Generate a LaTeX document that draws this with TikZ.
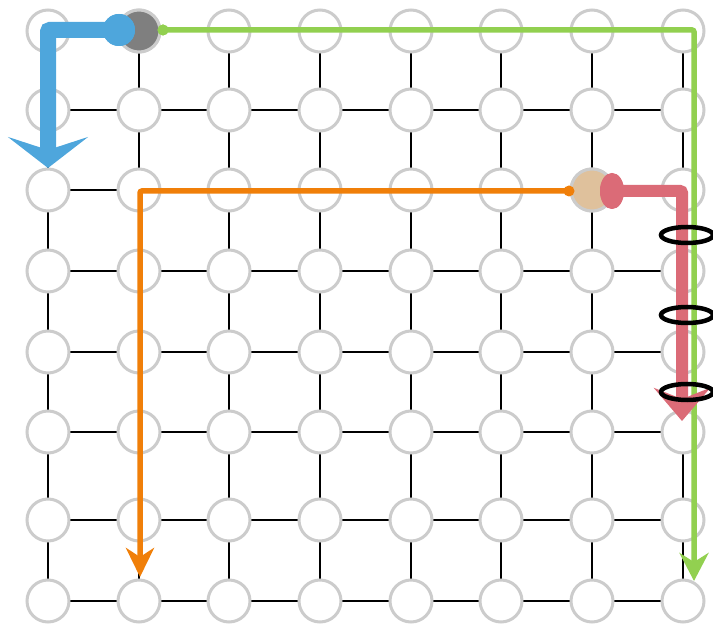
\documentclass[tikz,border=0pt]{standalone}
\usetikzlibrary{arrows.meta, shapes.geometric, backgrounds}
\definecolor{cblue}{HTML}{4EA6DC}
\definecolor{cgreen}{HTML}{92D050}
\definecolor{corange}{HTML}{F07F09}
\definecolor{cred}{HTML}{DB6B77}
\definecolor{ctan}{HTML}{DFC19C}
\definecolor{cdark}{HTML}{7F7F7F}
\definecolor{cring}{HTML}{CCCCCC}
\tikzset{
  every picture/.style={line width=2.5pt},
  cell/.style={circle, draw=cring, fill=#1, line width=3pt, minimum size=42pt, inner sep=0pt},
  cell/.default=white,
  wire/.style={draw=black, line width=2.8pt},
  route/.style={draw=#1, line width=5.5pt, rounded corners=2pt},
  dot/.style={circle, fill=#1, minimum size=11pt, inner sep=0pt},
  loop/.style={ellipse, draw=black, line width=4.5pt, minimum width=52pt, minimum height=16pt, inner sep=0pt},
}
\begin{document}
\begin{tikzpicture}[x=1pt, y=-1pt]
  \useasboundingbox (0,0) rectangle (713,628);
  % ---- mesh of cells, col c / row r ----
  \foreach \c/\x in {0/48,1/139,2/229,3/320,4/411,5/501,6/592,7/683}
    \foreach \r/\y in {0/31,1/110,2/190,3/271,4/352,5/432,6/520,7/601}
      \node[cell] (n-\c-\r) at (\x,\y) {};
  \node[cell=cdark] at (n-1-0) {};
  \node[cell=ctan] at (n-6-2) {};
  \begin{scope}[on background layer]
    \foreach \k in {0,...,7} {
      \draw[wire] (n-0-\k.center) -- (n-7-\k.center);
      \draw[wire] (n-\k-0.center) -- (n-\k-7.center);
    }
  \end{scope}
  % ---- the four routes ----
  \node[circle, fill=cblue, minimum size=32pt, inner sep=0pt] (bluedot) at (119,30) {};
  \node[dot=cgreen] (greendot) at (163,30) {};
  \node[dot=corange] (orangedot) at (569,191) {};
  \node[ellipse, fill=cred, minimum width=24pt, minimum height=36pt, inner sep=0pt] (redstart) at (612,191) {};
  \coordinate (blueend) at (48,168);
  \coordinate (greenend) at (694,581);
  \coordinate (orangeend) at (140,577);
  \coordinate (redend) at (682,421);
  \draw[route=cblue, line width=16pt, -{Stealth[length=31pt, width=80pt, inset=13pt]}] (bluedot.center) -| (blueend);
  \draw[route=cgreen, -{Stealth[length=28pt, width=29pt, inset=9pt]}] (greendot.center) -| (greenend);
  \draw[route=corange, -{Stealth[length=29pt, width=28pt, inset=9pt]}] (orangedot.center) -| (orangeend);
  \draw[route=cred, line width=12pt, -{Stealth[length=33pt, width=56pt, inset=11pt]}] (redstart.center) -| (redend);
  \node[ellipse, fill=cred, minimum width=24pt, minimum height=36pt, inner sep=0pt] at (redstart) {};
  \node[circle, fill=cblue, minimum size=32pt, inner sep=0pt] at (bluedot) {};
  \node[dot=cgreen] at (greendot) {};
  % ---- rings on the right column ----
  \node[loop] (ring1) at (687,235) {};
  \node[loop] (ring2) at (687,315) {};
  \node[loop] (ring3) at (687,392) {};
\end{tikzpicture}
\end{document}
